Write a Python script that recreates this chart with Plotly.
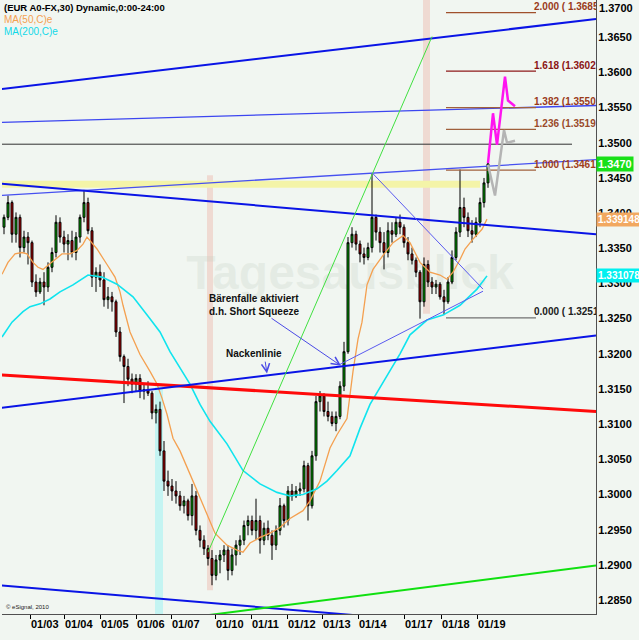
import plotly.graph_objects as go

# ---------------------------------------------------------------
# EUR/USD 30-Min-Chart (verdichtet): Kerzen, Durchschnitte, Linien
# x-Achse: Zeitraster (t), y-Achse: Kurs
# ---------------------------------------------------------------

t_candles = list(range(4, 492, 4))  # 122 Kerzen im Raster

opens = [
    1.3380, 1.3394, 1.3415, 1.3370, 1.3394, 1.3351, 1.3366, 1.3358, 1.3302, 1.3288,
    1.3302, 1.3295, 1.3323, 1.3344, 1.3387, 1.3366, 1.3356, 1.3361, 1.3344, 1.3366,
    1.3394, 1.3415, 1.3375, 1.3309, 1.3316, 1.3305, 1.3277, 1.3281, 1.3274, 1.3231,
    1.3196, 1.3182, 1.3164, 1.3157, 1.3165, 1.3147, 1.3149, 1.3144, 1.3116, 1.3121,
    1.3062, 1.3019, 1.3012, 1.3005, 1.2998, 1.2984, 1.2991, 1.2970, 1.2998, 1.2949,
    1.2935, 1.2923, 1.2909, 1.2885, 1.2907, 1.2914, 1.2921, 1.2892, 1.2914, 1.2928,
    1.2935, 1.2956, 1.2963, 1.2949, 1.2963, 1.2935, 1.2952, 1.2942, 1.2928, 1.2949,
    1.2984, 1.2963, 1.3005, 1.2998, 1.3005, 1.3008, 1.3041, 1.2984, 1.3055, 1.3132,
    1.3140, 1.3118, 1.3111, 1.3101, 1.3111, 1.3154, 1.3203, 1.3358, 1.3370, 1.3356,
    1.3342, 1.3337, 1.3351, 1.3394, 1.3373, 1.3358, 1.3344, 1.3375, 1.3370, 1.3387,
    1.3380, 1.3358, 1.3342, 1.3333, 1.3316, 1.3274, 1.3327, 1.3302, 1.3295, 1.3299,
    1.3281, 1.3274, 1.3302, 1.3337, 1.3373, 1.3408, 1.3394, 1.3375, 1.3370, 1.3387,
    1.3415, 1.3443,
]
highs = [
    1.3398, 1.3425, 1.3418, 1.3401, 1.3398, 1.3375, 1.3373, 1.3361, 1.3313, 1.3308,
    1.3316, 1.3330, 1.3351, 1.3397, 1.3394, 1.3375, 1.3370, 1.3375, 1.3373, 1.3398,
    1.3433, 1.3422, 1.3380, 1.3323, 1.3327, 1.3316, 1.3295, 1.3288, 1.3277, 1.3238,
    1.3199, 1.3193, 1.3172, 1.3171, 1.3171, 1.3158, 1.3161, 1.3147, 1.3128, 1.3132,
    1.3076, 1.3034, 1.3022, 1.3019, 1.3005, 1.2998, 1.2994, 1.3015, 1.3005, 1.2956,
    1.2942, 1.2928, 1.2921, 1.2914, 1.2921, 1.2928, 1.2928, 1.2923, 1.2935, 1.2942,
    1.2963, 1.2970, 1.2970, 1.2994, 1.2970, 1.2960, 1.2963, 1.2949, 1.2956, 1.2995,
    1.2987, 1.3012, 1.3015, 1.3012, 1.3017, 1.3048, 1.3045, 1.3062, 1.3140, 1.3147,
    1.3144, 1.3132, 1.3118, 1.3118, 1.3161, 1.3217, 1.3366, 1.3380, 1.3375, 1.3361,
    1.3351, 1.3358, 1.3456, 1.3398, 1.3380, 1.3373, 1.3387, 1.3387, 1.3394, 1.3398,
    1.3384, 1.3366, 1.3351, 1.3337, 1.3319, 1.3337, 1.3333, 1.3309, 1.3305, 1.3302,
    1.3291, 1.3309, 1.3347, 1.3380, 1.3462, 1.3422, 1.3401, 1.3390, 1.3394, 1.3422,
    1.3450, 1.3474,
]
lows = [
    1.3370, 1.3390, 1.3358, 1.3358, 1.3337, 1.3344, 1.3327, 1.3295, 1.3281, 1.3285,
    1.3269, 1.3288, 1.3316, 1.3337, 1.3358, 1.3344, 1.3333, 1.3337, 1.3333, 1.3358,
    1.3387, 1.3370, 1.3295, 1.3288, 1.3295, 1.3267, 1.3264, 1.3260, 1.3224, 1.3189,
    1.3130, 1.3154, 1.3144, 1.3147, 1.3137, 1.3135, 1.3140, 1.3107, 1.3101, 1.3055,
    1.3005, 1.2998, 1.2991, 1.2987, 1.2977, 1.2973, 1.2963, 1.2956, 1.2942, 1.2925,
    1.2914, 1.2899, 1.2871, 1.2878, 1.2888, 1.2904, 1.2878, 1.2885, 1.2899, 1.2914,
    1.2928, 1.2942, 1.2942, 1.2935, 1.2916, 1.2928, 1.2935, 1.2907, 1.2921, 1.2942,
    1.2953, 1.2956, 1.2991, 1.2995, 1.2998, 1.3003, 1.2963, 1.2980, 1.3048, 1.3118,
    1.3111, 1.3104, 1.3097, 1.3090, 1.3107, 1.3147, 1.3200, 1.3351, 1.3347, 1.3330,
    1.3327, 1.3333, 1.3344, 1.3361, 1.3344, 1.3320, 1.3337, 1.3358, 1.3366, 1.3370,
    1.3351, 1.3333, 1.3327, 1.3309, 1.3250, 1.3267, 1.3295, 1.3285, 1.3285, 1.3277,
    1.3255, 1.3271, 1.3299, 1.3333, 1.3366, 1.3380, 1.3366, 1.3358, 1.3366, 1.3380,
    1.3408, 1.3436,
]
closes = [
    1.3394, 1.3415, 1.3370, 1.3394, 1.3351, 1.3366, 1.3358, 1.3302, 1.3288, 1.3302,
    1.3295, 1.3323, 1.3344, 1.3387, 1.3366, 1.3356, 1.3361, 1.3344, 1.3366, 1.3394,
    1.3415, 1.3375, 1.3309, 1.3316, 1.3305, 1.3277, 1.3281, 1.3274, 1.3231, 1.3196,
    1.3182, 1.3164, 1.3157, 1.3165, 1.3147, 1.3149, 1.3144, 1.3116, 1.3121, 1.3062,
    1.3019, 1.3012, 1.3005, 1.2998, 1.2984, 1.2991, 1.2970, 1.2998, 1.2949, 1.2935,
    1.2923, 1.2909, 1.2885, 1.2907, 1.2914, 1.2921, 1.2892, 1.2914, 1.2928, 1.2935,
    1.2956, 1.2963, 1.2949, 1.2963, 1.2935, 1.2952, 1.2942, 1.2928, 1.2949, 1.2984,
    1.2963, 1.3005, 1.2998, 1.3005, 1.3008, 1.3041, 1.2984, 1.3055, 1.3132, 1.3140,
    1.3118, 1.3111, 1.3101, 1.3111, 1.3154, 1.3203, 1.3358, 1.3370, 1.3356, 1.3342,
    1.3337, 1.3351, 1.3394, 1.3373, 1.3358, 1.3344, 1.3375, 1.3370, 1.3387, 1.3380,
    1.3358, 1.3342, 1.3333, 1.3316, 1.3274, 1.3327, 1.3302, 1.3295, 1.3299, 1.3281,
    1.3274, 1.3302, 1.3337, 1.3373, 1.3408, 1.3394, 1.3375, 1.3370, 1.3387, 1.3415,
    1.3443, 1.3470,
]

# MA(50) orange, MA(200) cyan
ma50_t = [2, 8, 15, 22, 27, 33, 38, 43, 48, 55, 62, 70, 77, 83, 87, 90, 97, 107, 115,
          120, 123, 130, 140, 150, 157, 162, 167, 173, 180, 193, 207, 215, 227, 237,
          243, 250, 260, 270, 280, 290, 303, 310, 320, 330, 337, 347, 353, 358, 362,
          367, 373, 383, 393, 403, 410, 420, 430, 440, 447, 453, 460, 465, 473, 482, 487]
ma50_v = [1.3313, 1.3330, 1.3342, 1.3344, 1.3342, 1.3330, 1.3323, 1.3320, 1.3326,
          1.3334, 1.3342, 1.3342, 1.3347, 1.3356, 1.3366, 1.3361, 1.3349, 1.3327,
          1.3309, 1.3288, 1.3269, 1.3231, 1.3199, 1.3175, 1.3157, 1.3137, 1.3114,
          1.3080, 1.3062, 1.3019, 1.2973, 1.2945, 1.2928, 1.2921, 1.2918, 1.2931,
          1.2939, 1.2945, 1.2953, 1.2966, 1.2977, 1.2991, 1.3019, 1.3066, 1.3085,
          1.3108, 1.3175, 1.3221, 1.3245, 1.3298, 1.3320, 1.3340, 1.3358, 1.3368,
          1.3358, 1.3330, 1.3316, 1.3312, 1.3306, 1.3316, 1.3334, 1.3349, 1.3363,
          1.3377, 1.339148]

ma200_t = [2, 12, 23, 30, 40, 50, 60, 73, 88, 102, 117, 133, 150, 160, 170, 180, 190,
           200, 210, 227, 243, 260, 277, 290, 303, 317, 327, 337, 350, 360, 370, 385,
           400, 410, 427, 443, 460, 477, 487]
ma200_v = [1.3224, 1.3245, 1.3260, 1.3267, 1.3271, 1.3278, 1.3288, 1.3298, 1.3312,
           1.3309, 1.3299, 1.3281, 1.3250, 1.3231, 1.3203, 1.3179, 1.3157, 1.3128,
           1.3104, 1.3072, 1.3034, 1.3015, 1.3003, 1.2998, 1.3000, 1.3008, 1.3019,
           1.3034, 1.3055, 1.3094, 1.3128, 1.3164, 1.3200, 1.3227, 1.3248, 1.3255,
           1.3269, 1.3292, 1.331078]

# Prognosepfade
pink_t = [488, 493, 497, 505, 508, 515]
pink_v = [1.3471, 1.3542, 1.3497, 1.3594, 1.3560, 1.3552]
gray_t = [488, 495, 504, 507, 515]
gray_v = [1.3469, 1.3425, 1.3518, 1.3500, 1.3503]

# Trendlinien (Start/Ende)
upper_channel_t = [0, 596]
upper_channel_v = [1.3576, 1.3676]
mid_channel_t = [0, 596]
mid_channel_v = [1.3529, 1.3553]
level_1350_t = [0, 572]
level_1350_v = [1.3498, 1.3498]
top_trend_t = [0, 596]
top_trend_v = [1.3425, 1.3476]
down_trend_t = [0, 596]
down_trend_v = [1.3442, 1.3370]
red_line_t = [0, 596]
red_line_v = [1.3170, 1.3118]
neckline_t = [0, 596]
neckline_v = [1.3123, 1.3226]
bottom_blue_t = [0, 400]
bottom_blue_v = [1.2871, 1.2823]
bottom_green_t = [200, 596]
bottom_green_v = [1.2827, 1.2899]
steep_green_t = [208, 432]
steep_green_v = [1.2918, 1.3651]
wedge_upper_t = [373, 483]
wedge_upper_v = [1.3456, 1.3292]
wedge_lower_t = [340, 483]
wedge_lower_v = [1.3185, 1.3289]

# Fibonacci-Projektion
fib_t = [446, 536]
fib_prices = [1.3685, 1.3602, 1.3550, 1.3519, 1.3461, 1.3251]
fib_labels = ["2.000 ( 1.3685", "1.618 (1.3602", "1.382 (1.3550",
              "1.236 (1.3519", "1.000 (1.3461", "0.000 ( 1.3251"]
fib_line_colors = ["#A0502C", "#8E1A1A", "#A0603C", "#A0603C", "#A0603C", "#707070"]
fib_text_colors = ["#9A3A1A", "#8B1414", "#9A3A1A", "#9A4A2A", "#A0401A", "#202020"]

# Markierungen (Zonen)
pink_band_1_t = [207, 213]
pink_band_1_v = [1.2864, 1.3454]
pink_band_2_t = [423, 430]
pink_band_2_v = [1.3257, 1.3710]
cyan_band_t = [155, 163]
cyan_band_v = [1.2820, 1.3154]
yellow_band_t = [0, 480]
yellow_band_v = [1.3436, 1.3446]

day_ticks = [30, 64, 100, 136, 171, 215, 251, 287, 322, 358, 404, 441, 477]
day_labels = ["01/03", "01/04", "01/05", "01/06", "01/07", "01/10", "01/11",
              "01/12", "01/13", "01/14", "01/17", "01/18", "01/19"]
price_ticks = [1.2850, 1.2900, 1.2950, 1.3000, 1.3050, 1.3100, 1.3150, 1.3200,
               1.3250, 1.3300, 1.3350, 1.3400, 1.3450, 1.3500, 1.3550, 1.3600, 1.3650]

FONT = "Liberation Sans"
BG = "#F1F6F1"

fig = go.Figure()

# Zonen unter den Kerzen
for bt, bv, col in [(pink_band_1_t, pink_band_1_v, "#EFDAD2"),
                    (pink_band_2_t, pink_band_2_v, "#EFDAD2"),
                    (cyan_band_t, cyan_band_v, "#C4F4F2"),
                    (yellow_band_t, yellow_band_v, "#F4F4A8")]:
    fig.add_shape(type="rect", xref="x", yref="y", x0=bt[0], x1=bt[1],
                  y0=bv[0], y1=bv[1], fillcolor=col, line_width=0, layer="below")

# Wasserzeichen
fig.add_shape(type="rect", xref="x", yref="y", x0=160, x1=540, y0=1.3300, y1=1.3345,
              line_width=0, fillcolor="rgba(0,0,0,0)", layer="below",
              label=dict(text="<b>Tagesausblick</b>",
                         font=dict(family=FONT, size=48, color="rgba(185,200,185,0.22)")))

fig.add_trace(go.Candlestick(
    x=t_candles, open=opens, high=highs, low=lows, close=closes,
    increasing=dict(line=dict(color="#000000", width=1), fillcolor="#00B000"),
    decreasing=dict(line=dict(color="#000000", width=1), fillcolor="#C00000"),
    whiskerwidth=0, hoverinfo="skip",
))


def add_line(t, v, color, width, dash="solid"):
    fig.add_trace(go.Scatter(x=t, y=v, mode="lines", hoverinfo="skip",
                             line=dict(color=color, width=width, dash=dash)))


add_line(ma50_t, ma50_v, "#F4A050", 1.3)
add_line(ma200_t, ma200_v, "#10E4EE", 1.6)

add_line(upper_channel_t, upper_channel_v, "#0A14E6", 2)
add_line(mid_channel_t, mid_channel_v, "#3C46F0", 1.3)
add_line(level_1350_t, level_1350_v, "#303030", 1)
add_line(top_trend_t, top_trend_v, "#4650F0", 1.3)
add_line(down_trend_t, down_trend_v, "#0A14E6", 2)
add_line(red_line_t, red_line_v, "#FF0A0A", 3)
add_line(neckline_t, neckline_v, "#0A14E6", 2)
add_line(bottom_blue_t, bottom_blue_v, "#0A14E6", 2)
add_line(bottom_green_t, bottom_green_v, "#10E010", 2)
add_line(steep_green_t, steep_green_v, "#40E040", 1)
add_line(wedge_upper_t, wedge_upper_v, "#5A5AF0", 1)
add_line(wedge_lower_t, wedge_lower_v, "#5A5AF0", 1)

for lvl_price, col in zip(fib_prices, fib_line_colors):
    add_line(fib_t, [lvl_price, lvl_price], col, 1.3)

fig.add_trace(go.Scatter(
    x=[fib_t[1] - 2] * len(fib_prices), y=fib_prices, mode="text",
    text=[f"<b>{s}</b>" for s in fib_labels], textposition="top right",
    textfont=dict(family=FONT, size=10, color=fib_text_colors),
    cliponaxis=True, hoverinfo="skip",
))

add_line(gray_t, gray_v, "#B4B4B4", 2.5)
add_line(pink_t, pink_v, "#FF14F0", 2.5)

annotations = [
    dict(xref="paper", yref="paper", x=0, y=1, xanchor="left", yanchor="top",
         text="<b>(EUR A0-FX,30) Dynamic,0:00-24:00</b>", showarrow=False,
         font=dict(family=FONT, size=9.5, color="#000000")),
    dict(xref="paper", yref="paper", x=0, y=1, xanchor="left", yanchor="top", yshift=-12,
         text="MA(50,C)e", showarrow=False, font=dict(family=FONT, size=10, color="#F4A050")),
    dict(xref="paper", yref="paper", x=0, y=1, xanchor="left", yanchor="top", yshift=-24,
         text="MA(200,C)e", showarrow=False, font=dict(family=FONT, size=10, color="#10D8E8")),
    dict(xref="x", yref="y", x=207, y=1.3269, xanchor="left", yanchor="middle", align="left",
         text="<b>Bärenfalle aktiviert<br>d.h. Short Squeeze</b>", showarrow=False,
         font=dict(family=FONT, size=10, color="#101010")),
    dict(xref="x", yref="y", x=254, y=1.3200, xanchor="center", yanchor="middle",
         text="<b>Nackenlinie</b>", showarrow=False,
         font=dict(family=FONT, size=10, color="#101010")),
    dict(xref="x", yref="y", x=341, y=1.3183, ax=270, ay=1.3252, axref="x", ayref="y",
         text="", showarrow=True, arrowhead=5, arrowsize=1.6, arrowwidth=1,
         arrowcolor="#4A4AE6"),
    dict(xref="x", yref="y", x=267, y=1.3172, ax=265, ay=1.3191, axref="x", ayref="y",
         text="", showarrow=True, arrowhead=5, arrowsize=1.6, arrowwidth=1,
         arrowcolor="#4A4AE6"),
    dict(xref="paper", yref="paper", x=1, y=1, xanchor="left", yanchor="top", xshift=1,
         text="<b>1.3700</b>", showarrow=False, font=dict(family=FONT, size=11, color="#000000")),
    dict(xref="paper", yref="paper", x=0, y=0, xanchor="left", yanchor="bottom", xshift=2, yshift=2,
         text="© eSignal, 2010", showarrow=False, font=dict(family=FONT, size=6, color="#202020")),
]

for val, txt, col, fs in [(1.3470, "1.3470", "#18E018", 11),
                          (1.339148, "1.339148", "#F2A860", 10),
                          (1.331078, "1.331078", "#00F0F0", 10)]:
    annotations.append(dict(xref="paper", yref="y", x=1, y=val, xanchor="left", yanchor="middle",
                            text=f"<b>{txt}</b>", showarrow=False, bgcolor=col, borderpad=1,
                            font=dict(family=FONT, size=fs, color="#FFFFFF")))

fig.update_layout(
    width=639, height=640,
    margin=dict(l=2, r=43, t=0, b=26),
    paper_bgcolor=BG, plot_bgcolor=BG,
    showlegend=False,
    annotations=annotations,
    xaxis=dict(range=[2, 596], tickvals=day_ticks, ticktext=day_labels,
               ticks="outside", ticklen=4, tickcolor="#000000", tickangle=0,
               ticklabelposition="outside right",
               tickfont=dict(family=FONT, size=11, color="#000000", weight="bold"),
               showgrid=False, zeroline=False, showline=True, linecolor="#505050",
               rangeslider=dict(visible=False), fixedrange=True),
    yaxis=dict(side="right", range=[1.28301, 1.3703], tickvals=price_ticks,
               ticktext=[f"{v:.4f}" for v in price_ticks],
               tickfont=dict(family=FONT, size=11, color="#000000", weight="bold"),
               showgrid=False, zeroline=False, showline=True, linecolor="#505050",
               ticks="", ticklabelstandoff=-1, fixedrange=True),
)

# Seitenrand des Browsers entfernen, damit die Grafik bei (0,0) beginnt
fig.write_html("out.html", config={"displayModeBar": False},
               post_script="document.body.style.margin='0';")
